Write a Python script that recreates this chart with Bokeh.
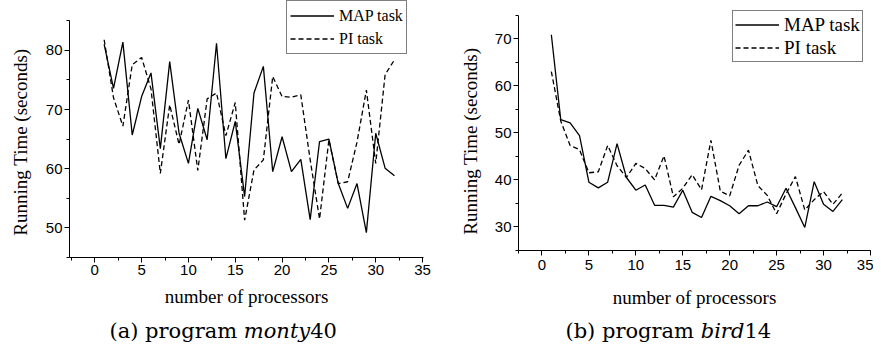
import math
from bokeh.plotting import figure
from bokeh.layouts import row, column
from bokeh.models import Range1d, SingleIntervalTicker, Legend, LegendItem, Label
from bokeh.embed import file_html
from bokeh.resources import INLINE

# ---------------- data ----------------
procs = list(range(1, 33))

monty_map = [81.0, 73.6, 81.4, 65.7, 72.2, 76.2, 63.4, 78.1, 66.0, 60.9, 70.2, 64.9,
             81.2, 61.7, 68.0, 55.3, 72.8, 77.3, 59.5, 65.4, 59.5, 61.6, 51.4, 64.6,
             65.0, 57.5, 53.3, 57.5, 49.2, 66.0, 60.1, 58.8]
monty_pi = [81.8, 72.0, 67.2, 77.6, 78.8, 73.5, 59.2, 70.8, 64.1, 71.6, 59.7, 71.8,
            72.8, 65.6, 71.2, 51.3, 59.8, 61.5, 75.6, 72.2, 72.1, 72.5, 61.5, 51.5,
            64.9, 57.5, 57.8, 64.5, 73.3, 60.9, 75.9, 78.4]

bird_map = [70.8, 52.8, 52.1, 49.4, 39.5, 38.3, 39.5, 47.7, 40.5, 37.8, 38.9, 34.6,
            34.6, 34.2, 37.8, 33.1, 32.0, 36.5, 35.6, 34.5, 32.8, 34.5, 34.5, 35.3,
            34.3, 38.2, 34.1, 29.9, 39.6, 34.8, 33.3, 35.8]
bird_pi = [63.0, 52.5, 47.3, 46.4, 41.5, 41.7, 47.3, 43.0, 40.5, 43.5, 42.4, 40.0,
           45.1, 36.4, 38.2, 41.1, 37.9, 48.4, 37.6, 36.6, 43.1, 46.3, 38.8, 36.7,
           32.8, 37.0, 40.7, 33.6, 35.8, 37.5, 34.8, 37.2]

series_labels = ["MAP task", "PI task"]
x_label = "number of processors"
y_label = "Running Time (seconds)"
caption_a = ["(a) program", "monty", "40"]
caption_b = ["(b) program", "bird", "14"]

monty_bounds = (45, 85)
bird_bounds = (25, 75)

SERIF = "Liberation Serif"
SANS = "Liberation Sans"
CAP_FONT = "DejaVu Serif"
BOTTOM = 28          # common bottom border (ticks + tick labels)
H1 = 257 + BOTTOM    # left figure height (frame 0..257)
H2 = 250 + BOTTOM    # right figure height (frame 0..250)
CAP_H = 58
TOTAL_H = H1 + CAP_H


def blank(width, height):
    f = figure(width=width, height=height, output_backend="svg", toolbar_location=None,
               x_range=Range1d(0, width), y_range=Range1d(0, height),
               x_axis_type=None, y_axis_type=None, min_border=0)
    f.outline_line_color = None
    f.grid.visible = False
    return f


def ylabel_fig(width, height, cx, cy):
    f = blank(width, height)
    f.add_layout(Label(x=cx, y=height - cy, text=y_label, angle=math.pi / 2,
                       text_align="center", text_baseline="middle", text_font=SERIF,
                       text_font_size="19px", text_color="black"))
    return f


def make_panel(map_vals, pi_vals, xr, bounds, ytop, width, height, mbl, mbr,
               leg_loc, leg_font, leg_row, leg_pad, xstand):
    p = figure(width=width, height=height, output_backend="svg", toolbar_location=None,
               x_range=Range1d(*xr), y_range=Range1d(bounds[0], ytop),
               min_border_left=mbl, min_border_right=mbr,
               min_border_top=0, min_border_bottom=BOTTOM)
    p.outline_line_color = None
    p.xgrid.visible = False
    p.ygrid.visible = False

    p.xaxis.ticker = SingleIntervalTicker(interval=5, num_minor_ticks=2)
    p.yaxis.ticker = SingleIntervalTicker(interval=10, num_minor_ticks=2)
    p.yaxis.bounds = bounds
    for ax in (p.xaxis, p.yaxis):
        ax.axis_line_color = "black"
        ax.axis_line_width = 1
        ax.major_tick_line_color = "black"
        ax.minor_tick_line_color = "black"
        ax.major_tick_in = 0
        ax.major_tick_out = 5
        ax.minor_tick_in = 0
        ax.minor_tick_out = 3
        ax.major_label_text_font = SANS
        ax.major_label_text_font_size = "15px"
        ax.major_label_text_color = "black"
        ax.major_label_standoff = 2
    p.xaxis.major_label_standoff = xstand

    r1 = p.line(procs, map_vals, line_color="black", line_width=1.3)
    r2 = p.line(procs, pi_vals, line_color="black", line_width=1.3, line_dash="5 3")

    legend = Legend(items=[LegendItem(label=series_labels[0], renderers=[r1]),
                           LegendItem(label=series_labels[1], renderers=[r2])],
                    location=leg_loc, orientation="vertical",
                    border_line_color="black", border_line_width=1,
                    background_fill_color="white", background_fill_alpha=1,
                    padding=leg_pad, spacing=0, margin=0,
                    glyph_width=44, glyph_height=leg_row, label_height=leg_row,
                    label_standoff=5,
                    label_text_font=SERIF, label_text_font_size=leg_font,
                    label_text_color="black")
    p.add_layout(legend)
    return p


# left panel: frame x 69..423, y 0..257 ; right panel: frame x 518..870, y 0..250
yl1 = ylabel_fig(36, H1, 20, 157)
p1 = make_panel(monty_map, monty_pi, (-2.7, 35.1), monty_bounds, 45 + 257 / 5.917,
                409, H1, 33, 22, (217, 203), "16px", 23, 3, 2)
yl2 = ylabel_fig(38, H1, 25, 156)
p2 = make_panel(bird_map, bird_pi, (-2.5, 35), bird_bounds, 25 + 250 / 4.71,
                390, H2, 35, 3, (214, 188), "19px", 23, 2, 4)

# bottom strip: x-axis titles and captions (page coordinates)
cap = blank(873, CAP_H)


def page_y(y):
    return TOTAL_H - y


for cx, cy in [(246, 296), (694, 297)]:
    cap.add_layout(Label(x=cx, y=page_y(cy), text=x_label, text_align="center",
                         text_baseline="middle", text_font=SERIF,
                         text_font_size="19px", text_color="black"))


def caption(parts, x_end, w_space, w_ital, cy):
    y = page_y(cy)
    cap.add_layout(Label(x=x_end, y=y, text=parts[0], text_align="right",
                         text_baseline="middle", text_font=CAP_FONT,
                         text_font_size="21px", text_color="black"))
    cap.add_layout(Label(x=x_end + w_space, y=y, text=parts[1], text_align="left",
                         text_baseline="middle", text_font=CAP_FONT,
                         text_font_style="italic", text_font_size="21px",
                         text_color="black"))
    cap.add_layout(Label(x=x_end + w_space + w_ital, y=y, text=parts[2],
                         text_align="left", text_baseline="middle", text_font=CAP_FONT,
                         text_font_size="21px", text_color="black"))


caption(caption_a, 236.6, 6.7, 66.4, 330)
caption(caption_b, 693.5, 6.7, 43.7, 330)

layout = column(row(yl1, p1, yl2, p2, spacing=0), cap, spacing=0)
open("out.html", "w").write(file_html(layout, INLINE))
